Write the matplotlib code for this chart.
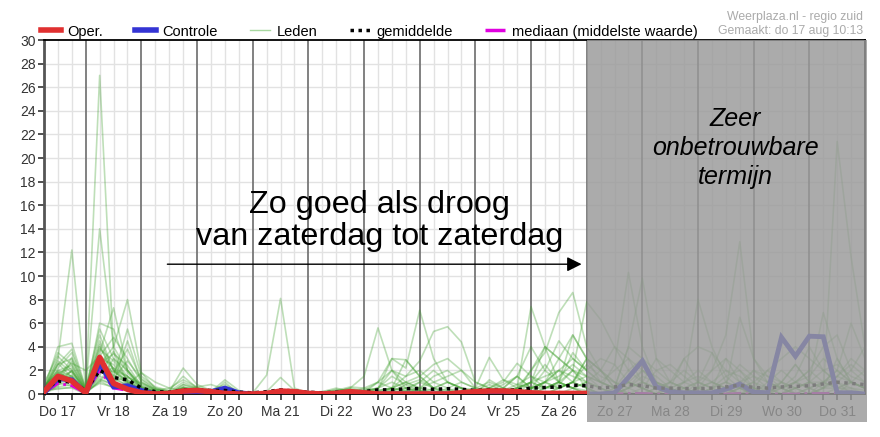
import matplotlib.pyplot as plt
import numpy as np
from matplotlib.lines import Line2D
from matplotlib.patches import Rectangle

plt.rcParams['font.family'] = ['Liberation Sans', 'DejaVu Sans']

# 6-hourly steps, hours after do 17 aug 00:00
hours = list(range(6, 361, 6))
day_labels = ['Do 17', 'Vr 18', 'Za 19', 'Zo 20', 'Ma 21', 'Di 22', 'Wo 23', 'Do 24',
              'Vr 25', 'Za 26', 'Zo 27', 'Ma 28', 'Di 29', 'Wo 30', 'Do 31']

# operational run (ends at h240)
oper = [.2, 1.5, 1.1, .1, 3.1, .9, .4, .1, 0, .05,
        .25, .3, .2, .05, 0, 0, .05, .25, .2, .05,
        0, .05, .2, .1, 0, 0, 0, 0, 0, 0,
        .1, .2, .25, .25, .2, .1, .05, .05, .05, .05]

controle = [.1, 1.3, 1.2, .1, 2.6, .6, .7, .3, 0, 0,
            .05, 0, .2, .5, .1, 0, 0, 0, 0, 0,
            0, 0, 0, 0, 0, 0, 0, 0, 0, 0,
            0, 0, 0, 0, 0, 0, 0, 0, 0, 0,
            0, .1, 1.4, 2.8, .6, .2, .1, .1, .1, .4,
            .85, .15, .1, 4.8, 3.2, 4.9, 4.85, .1, .1, 0]

gemiddelde = [.4, 1.1, 1.0, .3, 2.0, 1.4, 1.2, .5, .2, .15,
              .35, .35, .3, .3, .15, .1, .2, .35, .25, .15,
              .1, .15, .2, .2, .35, .35, .45, .45, .4, .45,
              .4, .3, .35, .3, .35, .5, .55, .6, .75, .7,
              .5, .6, .8, .7, .5, .5, .45, .45, .5, .6,
              .75, .55, .5, .6, .65, .7, .85, 1.0, .9, .8]

mediaan = [.1, .9, .7, .05, 2.0, .5, .3, .05, 0, 0,
           .05, .05, 0, .05, 0, 0, 0, 0, 0, 0,
           0, 0, 0, 0, 0, 0, 0, 0, 0, 0,
           0, 0, 0, 0, 0, 0, 0, .05, .05, .05,
           0, 0, .05, .05, 0, 0, 0, 0, 0, 0,
           .05, 0, 0, 0, 0, .05, .05, .05, .05, 0]

leden = [
    [.3, 1.2, 1.5, .2, 27, 3.5, 1.0, .3, .1, 0, .2, .1, 0, .3, 0, 0, 0, .2, .1, 0,
     0, 0, .2, .3, .5, 1.5, .8, .3, 0, 0, 0, .2, .5, .3, 0, .5, 2, 1, 3.5, 2,
     1, .5, 2, 3, 1, .5, 0, .5, 1, 2, 1.5, .5, 0, 0, 1, 2, 1, .5, .3, 0],
    [.5, 2.5, 3, .4, 14, 4, 2, .6, .2, .1, .5, .3, .1, .5, .1, 0, 0, 0, 0, .1,
     .2, .3, .4, .2, 0, .5, 2.9, 1.5, .5, .3, .1, 0, .3, .8, 1.5, .5, 0, .5, 1, 3,
     2, .5, 4, 9.8, 3, 1, .5, 0, .5, 1, .5, 0, 0, 1, 2.5, 1, .5, 3, 1, .5],
    [.4, 3, 12.2, .5, 4, 2, .8, .3, .1, 0, .3, .2, .1, .2, 0, 0, .1, .3, .2, 0,
     0, .1, .3, .2, .4, 3, 2.2, 7.1, 3, 1, .5, 0, .5, 1.2, .8, .5, 1, 2, 1, .5,
     0, .5, 1, .5, 0, 0, .5, 1, .5, 3, 2, .5, 0, 0, .5, 1, 6.9, 3, 1, .5],
    [.2, 1.8, 2.2, .3, 3.5, 7.3, 2, .5, .2, .1, .5, .4, .2, 1.2, .3, 0, 0, .1, 0, 0,
     .1, .2, .5, .3, 1, 2, 1.5, 2.8, 5.3, 5.7, 4.4, 1, .5, .3, .5, 2, 4, 3, 2, 1,
     .5, 2.5, 10.3, 4, 1, .5, 0, .5, 2, 5, 12.9, 3, 1, .5, 0, .5, 1, 2, 1, .5],
    [.1, 1, 2, .2, 2.5, 4, 8, 1.8, .5, .2, 2.2, .8, .3, .5, 0, 0, 0, 0, 0, 0,
     0, 0, .2, .5, .3, .5, 1, 1.5, 2.5, 3, 2, .5, 3.1, 1.2, .5, 7.4, 4, 1, .5, .3,
     0, 0, .5, 1, 3, 2, 1, 8, 4, 1.5, .5, 0, 1, 2, 1, .5, 0, 21.4, 11.6, 4],
    [.6, 2, 1.5, .1, 6, 5.5, 2, .8, .3, .5, 1.2, .6, .3, .8, .2, .1, 1.6, 8.1, .5, .1,
     0, 0, .1, 0, 0, .5, 1, .5, 0, 0, .3, .5, 1, .5, .2, 2, 3.5, 6.9, 8.6, 4,
     2, 1, .5, 2, 1, 0, .5, 1, .5, 0, .5, 1, 2, 3, 4, 3, 2, 1, .5, 0],
    [.3, 4, 4.3, .5, 5.5, 3, 1.5, .4, .1, 0, .5, .3, .1, .3, .1, 0, .2, 1.4, .3, 0,
     0, .2, .5, 1.5, 5.6, 2, 1, .5, .3, 0, 0, .2, .5, 1, 2.6, 1.5, .5, 1, 2, 7.8,
     6.3, 4, 2, 1, .5, 0, 1, 2, 1, .5, 0, 0, .5, 1, .5, 0, 1, 2, 6, 3],
    [.8, 3.5, 2.5, .3, 2, 1.5, 5.5, 1.5, .6, .3, 1.5, .5, .2, .3, 0, 0, 0, .3, .2, .1,
     .1, .3, .6, .5, 1, .5, .2, 0, 0, .5, 1, .5, .3, .5, 1.5, 4, 2, 4.5, 3, 2,
     3, 2.5, 1, .5, 0, .5, 3, 4, 3.5, 2, 1, 2, 1, .5, 1, 2, 4, 5, 2, 1],
    [.2, 1.5, 1, .1, 1.5, 1, 4.5, 1, .3, 0, .3, .2, 0, .2, 0, 0, 0, 0, 0, 0,
     0, 0, 0, .1, 1, 3, 2.9, 1.5, .5, 1, .5, 0, 0, .2, .5, 1, .5, 1, 5, 3,
     1, .5, 4, 3, 2, 1, .5, 0, 0, .5, 6.5, 3, 1.5, 1, 0, .5, 1, 1.5, 3, 2],
    [0, .8, 1.2, .2, 3, 2.5, 1.2, .3, 0, 0, .8, .5, .2, .6, 0, 0, 0, .2, .1, 0,
     .1, .4, .3, .1, .2, .5, 1.5, 2, 1, .5, 0, 0, 1.2, .5, 1.5, .5, 1, .5, 1, 3,
     2, .5, 0, .5, 2, 2.5, 1.5, .5, 0, 0, 0, .5, 2, 1, .5, 0, .5, 1.5, 1, .5],
    [.5, 2.2, 3.5, .4, 4.5, 2, 1, .2, .1, 0, .2, .1, 0, 1, 0, 0, 0, 0, 0, 0,
     0, .1, .2, 0, 0, 0, .5, 1, .5, 0, 0, 0, 0, .3, 0, 1, 4, 3, 2, .5,
     0, .5, 1, .5, 0, 1, 3, 1, .5, 0, .5, 0, 0, .5, 1.5, 4, 2, 1, 0, 0],
    [.3, 1, 2.8, .2, 1, 3, 2, .6, .2, 0, .6, .3, .1, .3, .1, 0, 0, .1, .1, 0,
     0, 0, 0, .2, .5, 2, .5, 0, 0, .3, .5, .3, .2, 0, 0, .5, 1, 3, 5, 3,
     2, 1, .5, 0, .5, 1, 2, 1, 2, 3, 1, .5, 0, 1, 2.5, 1, .5, .5, 1, .5],
    [.6, 2.8, 1.8, .1, 2.2, 1.2, .8, 1.8, 1, .5, .3, .2, .1, .2, 0, 0, 0, 0, 0, .1,
     .2, .5, .2, 0, 0, 0, .2, .3, 0, 0, 0, 0, .2, .5, .3, 1, 1.5, 2, 1.5, 1,
     .5, 0, .5, 1.5, 1, .5, 0, 1, 3.5, 1, .5, 2, 1.5, .5, 0, 0, .5, 1, 2, 4],
    [.4, 1.6, 2.6, 2, 3.2, 4.8, 3, 1, .4, .2, 1, .5, .2, .2, 0, 0, 0, .1, 0, 0,
     0, 0, .1, .1, .3, .5, .3, .5, 1.5, 2, 1, .5, .3, .2, .5, 1, 2.5, 1, .5, 1,
     2, 4, 3, 1, .5, .5, 1, .5, 0, 0, .5, 1, .5, .5, 1, 1.5, 3, 2, 1, .5],
    [.2, .6, .8, 0, 1.8, 2.2, 1, .3, .1, 0, .4, .6, .8, .4, .1, 0, 0, 0, 0, 0,
     0, 0, 0, 0, 0, .3, .5, .2, 0, 0, 0, .3, .8, .3, 0, .5, .5, .5, 1, 1.5,
     1, .5, 1, .5, 0, 0, 0, .5, 1, .5, 0, .5, .5, 0, .5, 1, 1, .5, .5, .3],
    [.7, 1.3, .9, .1, 2.8, 1.8, 3.8, 1.2, .4, .1, .6, .3, .1, .5, .1, 0, 0, 0, 0, 0,
     0, 0, 0, 0, 0, 0, .3, 1, 2, 1, .5, 0, 0, .3, .8, 1.5, 1, .5, 1, 2.5,
     1.5, 1, 0, 0, .5, 1, .5, 0, .5, 1, 2.5, 1.5, .5, 0, 0, 0, .5, 1.5, 2.5, 1.5],
    [.1, .5, .5, 0, 1.2, .8, .5, .2, 0, 0, .1, .1, 0, .1, 0, 0, 0, 0, 0, 0,
     0, 0, 0, 0, 0, 0, 0, 0, 0, 0, 0, 0, 0, 0, 0, 0, .5, 1, .5, 0,
     0, 0, 0, 0, 0, 0, 0, 0, 0, 0, 0, 0, 0, 0, 0, 0, 0, 0, 0, 0],
    [.3, 1.8, 1.3, .2, 3.8, 2.8, 1.2, .4, .1, 0, .3, .2, .1, .3, 0, 0, 0, 0, .1, .1,
     .1, .2, .3, .1, 0, .2, .8, 1.2, .5, 0, 0, 0, 0, 0, .5, 1, .5, .8, 2, 1.5,
     .5, 0, 1, 2, 1.5, .5, 0, 0, 0, 0, 1, 1.5, 1, .5, 0, 0, 0, .5, 1, .5],
    [.9, 3.2, 2, .3, 1.3, .8, .6, .2, .1, 0, .2, .1, 0, .1, 0, 0, 0, 0, 0, 0,
     0, 0, .1, .2, .5, 1, .5, .3, .1, 0, 0, 0, 0, 0, 0, 0, 1, 2, 3, 2,
     1, .5, 0, 0, 0, .5, 1, 1.5, 1, .5, 0, 0, 0, .5, 1, .5, 0, 0, 1, 2],
    [.5, 2.5, 3.8, .5, 5, 2, 1.5, .5, .2, .1, .8, .4, .2, .3, 0, 0, 0, 0, 0, 0,
     0, 0, .2, .3, .2, 0, 0, .5, 1, 1.5, 2, 1, .5, 0, 0, .5, 1, 1.5, 2.5, 1.5,
     1, 2, 3, 2, 1, 0, 0, 0, .5, 1.5, 2, 1, 0, 0, .5, 1, 2, 2.5, 1.5, 1],
    [.3, 1.1, 1.6, .1, 2.4, 1.6, .9, .3, .1, 0, .2, .1, 0, .2, 0, 0, 0, 0, 0, 0,
     0, 0, 0, 0, 0, 0, 0, 0, 0, 0, 0, 0, 0, 0, 0, 0, 0, .5, 1, .5,
     0, 0, 0, 0, 0, 0, 0, 0, 0, 0, 0, 0, 0, 0, 0, 0, 0, 0, 0, 0],
    [.4, 2, 2.4, .3, 1.6, 3.6, 1.8, .5, .2, 0, .4, .3, .1, .4, 0, 0, 0, 0, 0, 0,
     0, 0, 0, 0, 0, .3, 0, 0, .5, 1, .5, 0, 0, 0, 0, 0, 0, 0, .5, 1,
     .5, 0, 0, 0, 0, 0, 0, 0, 0, 0, 0, 0, 0, 0, 0, 0, 0, 0, 0, 0],
    [.2, .9, .7, .1, 2.1, 1.1, 1.4, .9, .4, .1, .1, .1, .1, .1, 0, 0, 0, 0, 0, 0,
     0, 0, 0, 0, 0, 0, 0, 0, 0, 0, 0, 0, 0, 0, 0, 0, .5, 1, .5, 0,
     0, 0, 0, 0, 0, 0, 0, 0, 0, 0, 0, 0, 0, 0, 0, 0, 0, 0, 0, 0],
    [.6, 1.9, 1.1, .2, 3.3, 2.2, 1.5, .6, .2, 0, .5, .2, 0, .2, 0, 0, 0, 0, 0, 0,
     0, 0, 0, 0, 0, 0, 0, 0, 0, 0, 0, 0, 0, 0, 0, 0, 0, 0, 0, 0,
     0, 0, .5, 1, .5, 0, 0, 0, 0, 0, 0, 0, 0, 0, 0, 0, 0, 0, 0, 0],
    [.1, .7, 2, .2, 4.2, 1.4, .7, .2, 0, 0, .1, 0, 0, 0, 0, 0, 0, 0, 0, 0,
     0, 0, 0, 0, 0, 0, 0, 0, 0, 0, 0, 0, 0, 0, 0, 0, 0, 0, 0, 0,
     0, 0, 0, 0, 0, 0, 0, 0, 0, 0, 0, 0, 0, 0, 0, 0, 0, 0, 0, 0],
    [.5, 1.4, 1.9, .2, .9, .6, .4, .1, 0, 0, .3, .2, .1, .2, 0, 0, 0, 0, 0, 0,
     0, 0, 0, 0, 0, 0, 0, 0, 0, 0, 0, 0, 0, 0, 0, 0, 0, 0, 0, 0,
     0, 0, 0, 0, 0, 0, 0, 0, 0, 0, 0, 0, 0, 0, 0, 0, 0, 0, 0, 0],
    [.2, 2.6, 1.4, .1, 2.6, 3.4, 2.4, .7, .3, .1, .4, .2, .1, .3, 0, 0, 0, 0, 0, 0,
     0, 0, 0, 0, 0, 0, 0, 0, 0, 0, 0, 0, 0, 0, 0, 0, 0, 0, 0, 0,
     0, 0, 0, 0, 0, 0, 0, 0, 0, 0, 0, 0, 0, 0, 0, 0, 0, 0, 0, 0],
    [.3, 1.2, 3.1, .4, 1.9, 1.9, 1.1, .4, .1, 0, .2, .1, 0, .2, 0, 0, 0, 0, 0, 0,
     0, 0, 0, 0, 0, 0, 0, 0, 0, 0, 0, 0, 0, 0, 0, 0, 0, 0, 0, 0,
     0, 0, 0, 0, 0, 0, 0, 0, 0, 0, 0, 0, 0, 0, 0, 0, 0, 0, 0, 0],
    [.4, .4, .6, .1, 1.1, .5, .3, .1, 0, 0, .2, 0, 0, 0, 0, 0, 0, 0, 0, 0,
     0, 0, 0, 0, 0, 0, 0, 0, 0, 0, 0, 0, 0, 0, 0, 0, 0, 0, 0, 0,
     0, 0, 0, 0, 0, 0, 0, 0, 0, 0, 0, 0, 0, 0, 0, 0, 0, 0, 0, 0],
    [.7, 1.7, 1.2, .2, 2.3, 1.3, 2.8, 1.3, .5, .2, .3, .1, 0, .1, 0, 0, 0, 0, 0, 0,
     0, 0, 0, 0, 0, 0, 0, 0, 0, 0, 0, 0, 0, 0, 0, 0, 0, 0, 0, 0,
     0, 0, 0, 0, 0, 0, 0, 0, 0, 0, 0, 0, 0, 0, 0, 0, 0, 0, 0, 0],
]

fig = plt.figure(figsize=(8.8, 4.37), dpi=100)
ax = fig.add_axes([44 / 880, 43 / 437, 821 / 880, 354 / 437])

# grid
for h in range(6, 361, 6):
    if h % 24 == 0:
        ax.axvline(h, color='#777777', lw=1.3, zorder=1)
    else:
        ax.axvline(h, color='#e2e2e2', lw=1, zorder=0.5)
for v in range(2, 30, 2):
    ax.axhline(v, color='#e2e2e2', lw=1, zorder=0.5)

for m in leden:
    ax.plot(hours, m, color='#3c9e2a', alpha=0.33, lw=1.2, zorder=2)
ax.plot(hours, mediaan, color='#e000e0', lw=2, ls='-.', zorder=3)
ax.plot(hours, controle, color='#3434d4', lw=3.5, zorder=4, solid_joinstyle='miter')
ax.plot(hours, gemiddelde, color='black', lw=2.5, ls=(0, (1, 1.3)), zorder=5)
ax.plot(hours[:len(oper)], oper, color='#e03030', lw=4, zorder=6)

ax.set_xlim(6, 360)
ax.set_ylim(0, 30)
ax.set_yticks(range(0, 31, 2))
noon = [12 + 24 * i for i in range(len(day_labels))]
ax.set_xticks(noon)
ax.set_xticklabels(day_labels)
ax.set_xticks([h for h in range(6, 360, 6) if h % 24 != 0 and h % 24 != 12], minor=True)
ax.tick_params(axis='both', which='both', length=4, width=1.2, color='#333333',
               labelsize=10, labelcolor='#333333')
ax.tick_params(axis='x', which='major', pad=4)
ax.tick_params(axis='y', pad=2)
for s in ['top', 'bottom', 'right']:
    ax.spines[s].set_color('black')
    ax.spines[s].set_linewidth(1.3)
ax.spines['left'].set_color('#555555')
ax.spines['left'].set_linewidth(2)

# annotation
ax.annotate('', xy=(239, 11.0), xytext=(58, 11.0),
            arrowprops=dict(arrowstyle='-|>', mutation_scale=22, color='black', lw=1), zorder=7)
ax.text(150.8, 14.65, 'Zo goed als droog\nvan zaterdag tot zaterdag', fontsize=23.3,
        ha='center', va='center', linespacing=1.1, zorder=7)

# unreliable period
fig.add_artist(Rectangle((587 / 880, 15 / 437), 280 / 880, 382 / 437, transform=fig.transFigure,
                         facecolor=(0.6, 0.6, 0.6), alpha=0.82, edgecolor='none', zorder=10))
fig.text(735 / 880, 1 - 148 / 437, 'Zeer\nonbetrouwbare\ntermijn', fontsize=18, style='italic',
         ha='center', va='center', linespacing=1.25, zorder=11)

handles = [Line2D([], [], color='#e03030', lw=4),
           Line2D([], [], color='#3434d4', lw=4),
           Line2D([], [], color='#a8d8a0', lw=1),
           Line2D([], [], color='black', lw=2.5, ls=(0, (1, 1.3))),
           Line2D([], [], color='#e000e0', lw=2.5, ls='-.')]
names = ['Oper.', 'Controle', 'Leden', 'gemiddelde', 'mediaan (middelste waarde)']
ax.legend(handles, names, loc='lower left', bbox_to_anchor=(-0.006, 1.0), ncol=5, frameon=False,
          fontsize=10.5, handlelength=1.4, handletextpad=0.45, columnspacing=2.2,
          borderaxespad=0, borderpad=0.1)

fig.text(863 / 880, 1 - 17 / 437, 'Weerplaza.nl - regio zuid', fontsize=8.8, color='#aaaaaa',
         ha='right', va='center')
fig.text(863 / 880, 1 - 31 / 437, 'Gemaakt: do 17 aug 10:13', fontsize=8.8, color='#aaaaaa',
         ha='right', va='center')

fig.savefig('out.png', dpi=100)
